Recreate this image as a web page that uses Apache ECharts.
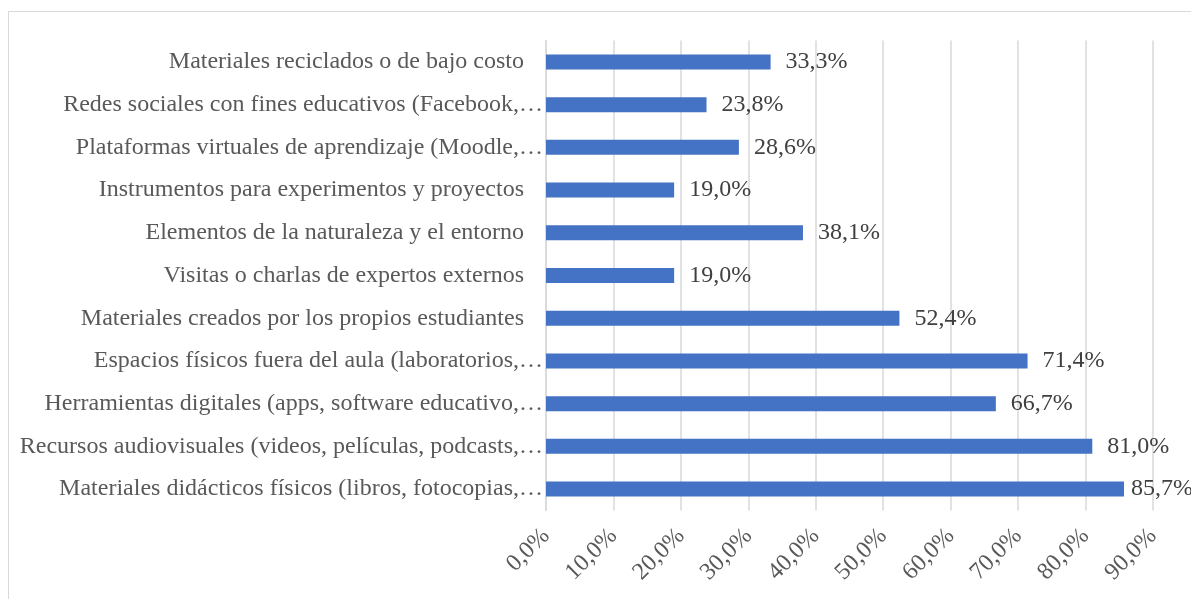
<!DOCTYPE html>
<html>
<head>
<meta charset="utf-8">
<script src="https://cdn.jsdelivr.net/npm/echarts@6/dist/echarts.min.js"></script>
<style>
    html, body { margin: 0; padding: 0; background: #fff; }
    #chart { width: 1191px; height: 599px; }
</style>
</head>
<body>
<div id="chart"></div>
<script>
// bottom to top, as the category axis draws them
const categories = [
    'Materiales didácticos físicos (libros, fotocopias,…',
    'Recursos audiovisuales (videos, películas, podcasts,…',
    'Herramientas digitales (apps, software educativo,…',
    'Espacios físicos fuera del aula (laboratorios,…',
    'Materiales creados por los propios estudiantes',
    'Visitas o charlas de expertos externos',
    'Elementos de la naturaleza y el entorno',
    'Instrumentos para experimentos y proyectos',
    'Plataformas virtuales de aprendizaje (Moodle,…',
    'Redes sociales con fines educativos (Facebook,…',
    'Materiales reciclados o de bajo costo'
];
const percentages = [85.7, 81.0, 66.7, 71.4, 52.4, 19.0, 38.1, 19.0, 28.6, 23.8, 33.3];

const fmt = v => v.toFixed(1).replace('.', ',') + '%';
const serif = '"Liberation Serif", "Times New Roman", serif';

// the longest bar's label sits closer so it fits inside the frame
const barData = percentages.map((v, i) => i === 0 ? { value: v, label: { distance: 7 } } : v);

var myChart = echarts.init(document.getElementById('chart'));
myChart.setOption({
    animation: false,
    textStyle: { fontFamily: serif },
    graphic: [{
        type: 'rect',
        shape: { x: 8.5, y: 11.5, width: 1200, height: 600 },
        style: { fill: 'none', stroke: '#d9d9d9', lineWidth: 1 },
        silent: true
    }],
    grid: {
        left: 546,
        right: 38,
        top: 40.6,
        bottom: 88.6,
        containLabel: false
    },
    xAxis: {
        type: 'value',
        min: 0,
        max: 90,
        interval: 10,
        axisLine: { show: false },
        axisTick: { show: false },
        splitLine: { lineStyle: { color: '#d9d9d9', width: 1.5 } },
        axisLabel: {
            rotate: 45,
            margin: 22,
            fontSize: 24,
            color: '#595959',
            fontFamily: serif,
            formatter: v => fmt(v)
        }
    },
    yAxis: {
        type: 'category',
        data: categories,
        axisLine: { show: true, lineStyle: { color: '#d9d9d9', width: 1.5 } },
        axisTick: { show: false },
        axisLabel: {
            margin: 3,
            fontSize: 24,
            color: '#595959',
            fontFamily: serif,
            formatter: t => t.endsWith('…') ? '{e|' + t + '}' : '{n|' + t + '}',
            rich: {
                e: { fontSize: 24, color: '#595959', fontFamily: serif },
                n: { fontSize: 24, color: '#595959', fontFamily: serif, padding: [0, 19, 0, 0] }
            }
        }
    },
    series: [{
        type: 'bar',
        data: barData,
        barWidth: 15,
        itemStyle: { color: '#4472c4' },
        label: {
            show: true,
            position: 'right',
            distance: 15,
            fontSize: 24,
            color: '#404040',
            fontFamily: serif,
            formatter: p => fmt(p.value)
        }
    }]
});
</script>
</body>
</html>
